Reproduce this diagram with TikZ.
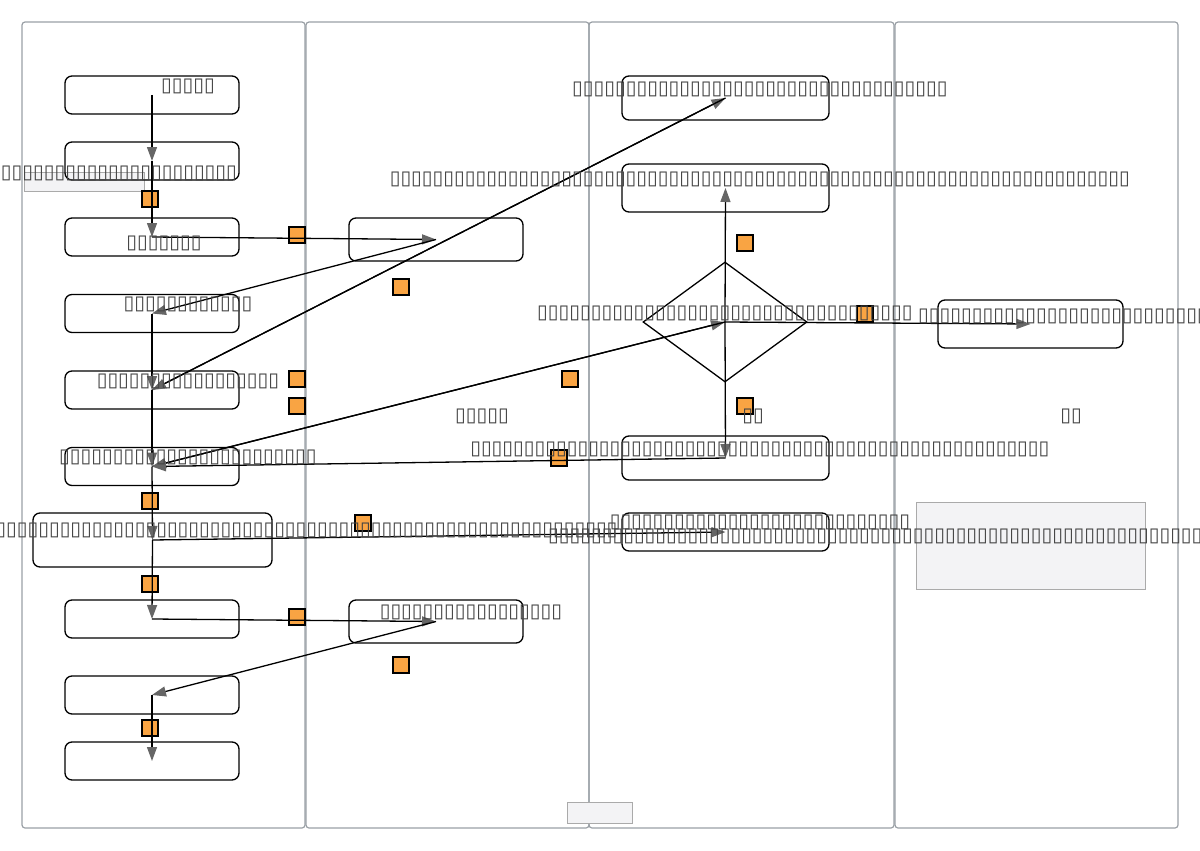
\documentclass[tikz,border=0pt]{standalone}
\usepackage{fontspec}
\setmainfont{DejaVu Sans}
\usetikzlibrary{positioning,arrows.meta,shapes.geometric}
\definecolor{laneline}{HTML}{9AA0A6}
\definecolor{portfill}{HTML}{F9A443}
\definecolor{tipgray}{HTML}{666666}
\definecolor{notefill}{HTML}{F3F3F5}
\definecolor{notedraw}{HTML}{AAAAAA}
\definecolor{txtgray}{HTML}{444444}

\begin{document}
\begin{tikzpicture}[
  x=1pt, y=-1pt,
  lane/.style={draw=laneline, line width=1.2pt, rounded corners=3pt},
  stepbox/.style={draw, rounded corners=7pt, line width=1.3pt, minimum width=174pt, minimum height=38pt, inner sep=0pt},
  decide/.style={draw, diamond, line width=1.3pt, minimum width=164pt, minimum height=120pt, inner sep=0pt},
  port/.style={draw, fill=portfill, line width=1.2pt, minimum size=16pt, inner sep=0pt},
  note/.style={draw=notedraw, fill=notefill, line width=1pt},
  lbl/.style={text=txtgray, font=\fontsize{19.5}{21}\selectfont, inner sep=0pt},
  flow/.style={line width=1.3pt, -{Triangle[length=14pt,width=10pt,color=tipgray]}}
]
\useasboundingbox (0,0) rectangle (1200,851);
% swimlanes
\draw[lane] (22,22) rectangle (305,828);
\draw[lane] (306,22) rectangle (589,828);
\draw[lane] (589,22) rectangle (894,828);
\draw[lane] (895,22) rectangle (1178,828);
\draw[note] (24,172) rectangle (144,191);
\draw[note] (916,502) rectangle (1145,589);
\draw[note] (567,802) rectangle (632,823);
% left lane
\node[stepbox] (start) at (152,95) {};
\node[stepbox] (take) at (152,161) {};
\node[stepbox] (check) at (152,237) {};
\node[stepbox] (fix) at (152,313.5) {};
\node[stepbox] (send) at (152,390) {};
\node[stepbox] (wait) at (152,466.5) {};
\node[stepbox, minimum width=239pt, minimum height=54pt] (merge) at (152.5,540) {};
\node[stepbox] (pack) at (152,619) {};
\node[stepbox] (ship) at (152,695) {};
\node[stepbox] (done) at (152,761) {};
% second lane
\node[stepbox, minimum height=43pt] (review) at (436,239.5) {};
\node[stepbox, minimum height=43pt] (store) at (436,621.5) {};
% third lane
\node[stepbox, minimum width=207pt, minimum height=44pt] (reply) at (725.5,98) {};
\node[stepbox, minimum width=207pt, minimum height=48pt] (update) at (725.5,188) {};
\node[decide] (ok) at (725,322) {};
\node[stepbox, minimum width=207pt, minimum height=44pt] (notify) at (725.5,458) {};
\node[stepbox, minimum width=207pt] (record) at (725.5,532) {};
% fourth lane
\node[stepbox, minimum width=185pt, minimum height=48pt] (escal) at (1030.5,324) {};
% ports
\node[port] (p1) at (150,199) {};
\node[port] (p2) at (297,235) {};
\node[port] (p3) at (401,287) {};
\node[port] (p4) at (297,379) {};
\node[port] (p5) at (297,406) {};
\node[port] (p6) at (570,379) {};
\node[port] (p7) at (745,243) {};
\node[port] (p8) at (865,314) {};
\node[port] (p9) at (745,406) {};
\node[port] (p10) at (559,458) {};
\node[port] (p11) at (150,501) {};
\node[port] (p12) at (363,523) {};
\node[port] (p13) at (150,584) {};
\node[port] (p14) at (297,617) {};
\node[port] (p15) at (401,665) {};
\node[port] (p16) at (150,728) {};
% connectors
\draw[flow] (start.center) -- (take.center);
\draw[flow] (take.center) -- (check.center);
\draw[flow] (check.center) -- (review.center);
\draw[flow] (review.center) -- (fix.center);
\draw[flow] (fix.center) -- (send.center);
\draw[flow] (send.center) -- (reply.center);
\draw[flow] (reply.center) -- (send.center);
\draw[flow] (send.center) -- (wait.center);
\draw[flow] (wait.center) -- (ok.center);
\draw[flow] (ok.center) -- (wait.center);
\draw[flow] (ok.center) -- (update.center);
\draw[flow] (ok.center) -- (notify.center);
\draw[flow] (ok.center) -- (escal.center);
\draw[flow] (notify.center) -- (wait.center);
\draw[flow] (wait.center) -- (merge.center);
\draw[flow] (merge.center) -- (record.center);
\draw[flow] (merge.center) -- (pack.center);
\draw[flow] (pack.center) -- (store.center);
\draw[flow] (store.center) -- (ship.center);
\draw[flow] (ship.center) -- (done.center);
% texts
\node[lbl] (t-start) at (188,86) {▯▯▯▯▯};
\node[lbl] (t-take) at (119,173) {▯▯▯▯▯▯▯▯▯▯▯▯▯▯▯▯▯▯▯▯▯▯};
\node[lbl] (t-check) at (164,243) {▯▯▯▯▯▯▯};
\node[lbl] (t-fix) at (188,304) {▯▯▯▯▯▯▯▯▯▯▯▯};
\node[lbl] (t-send) at (188,381) {▯▯▯▯▯▯▯▯▯▯▯▯▯▯▯▯▯};
\node[lbl] (t-wait) at (188,457) {▯▯▯▯▯▯▯▯▯▯▯▯▯▯▯▯▯▯▯▯▯▯▯▯};
\node[lbl, anchor=east] (t-merge) at (618,530) {▯▯▯▯▯▯▯▯▯▯▯▯▯▯▯▯▯▯▯▯▯▯▯▯▯▯▯▯▯▯▯▯▯▯▯▯▯▯▯▯▯▯▯▯▯▯▯▯▯▯▯▯▯▯▯▯▯▯▯▯};
\node[lbl] (t-store) at (471,612) {▯▯▯▯▯▯▯▯▯▯▯▯▯▯▯▯▯};
\node[lbl] (t-reply) at (760,89) {▯▯▯▯▯▯▯▯▯▯▯▯▯▯▯▯▯▯▯▯▯▯▯▯▯▯▯▯▯▯▯▯▯▯▯};
\node[lbl] (t-update) at (760,179) {▯▯▯▯▯▯▯▯▯▯▯▯▯▯▯▯▯▯▯▯▯▯▯▯▯▯▯▯▯▯▯▯▯▯▯▯▯▯▯▯▯▯▯▯▯▯▯▯▯▯▯▯▯▯▯▯▯▯▯▯▯▯▯▯▯▯▯▯▯};
\node[lbl] (t-ok) at (725,313) {▯▯▯▯▯▯▯▯▯▯▯▯▯▯▯▯▯▯▯▯▯▯▯▯▯▯▯▯▯▯▯▯▯▯▯};
\node[lbl] (t-notify) at (760,449) {▯▯▯▯▯▯▯▯▯▯▯▯▯▯▯▯▯▯▯▯▯▯▯▯▯▯▯▯▯▯▯▯▯▯▯▯▯▯▯▯▯▯▯▯▯▯▯▯▯▯▯▯▯▯};
\node[lbl] (t-record) at (760,522) {▯▯▯▯▯▯▯▯▯▯▯▯▯▯▯▯▯▯▯▯▯▯▯▯▯▯▯▯};
\node[lbl, anchor=west] (t-record2) at (548,536) {▯▯▯▯▯▯▯▯▯▯▯▯▯▯▯▯▯▯▯▯▯▯▯▯▯▯▯▯▯▯▯▯▯▯▯▯▯▯▯▯▯▯▯▯▯▯▯▯▯▯▯▯▯▯▯▯▯▯▯▯▯▯▯▯};
\node[lbl, anchor=west] (t-escal) at (918,316) {▯▯▯▯▯▯▯▯▯▯▯▯▯▯▯▯▯▯▯▯▯▯▯▯▯▯▯▯▯▯};
\node[lbl] (lane2) at (482,416) {▯▯▯▯▯};
\node[lbl] (lane3) at (753,416) {▯▯};
\node[lbl] (lane4) at (1071,416) {▯▯};
\end{tikzpicture}
\end{document}
